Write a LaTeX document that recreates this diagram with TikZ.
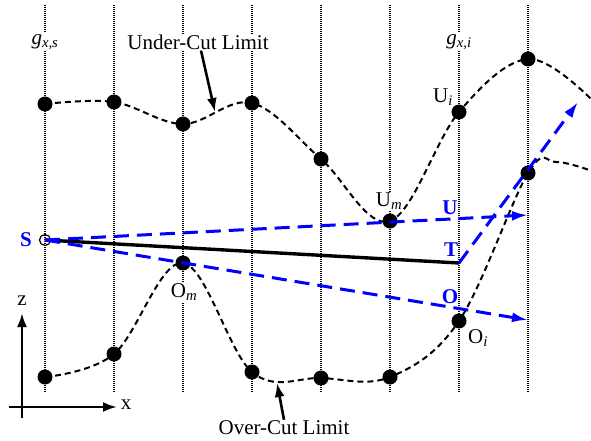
\documentclass[tikz,border=0pt]{standalone}
\usepackage{fontspec}
\setmainfont{Liberation Serif}
\usetikzlibrary{arrows.meta}
\definecolor{vblue}{RGB}{0,0,255}
\tikzset{
  gridln/.style={dash pattern=on 1.2pt off 0.8pt,line width=1.6pt,black},
  cutpt/.style={circle,fill=black,inner sep=0pt,minimum size=15pt},
  cutln/.style={dash pattern=on 6pt off 4pt,line width=2pt},
  toolln/.style={line width=3.4pt},
  vecln/.style={draw=vblue,dash pattern=on 15pt off 8pt,line width=3pt,-{Latex[length=16pt,width=10pt]}},
  lbl/.style={font=\fontsize{21}{23}\selectfont,inner sep=1pt},
  vlbl/.style={font=\fontsize{21}{23}\selectfont\bfseries,text=vblue,inner sep=1pt},
  pointer/.style={line width=2.6pt,-{Latex[length=14pt,width=10pt]}},
}

\begin{document}
\begin{tikzpicture}[x=1pt,y=-1pt]
  \useasboundingbox (0,0) rectangle (591,441);
  % grid lines g_x
  \foreach \i/\gx in {1/45,2/114,3/183,4/252,5/321,6/390,7/459,8/528} {
    \coordinate (gt\i) at (\gx,5);
    \coordinate (gb\i) at (\gx,392);
    \draw[gridln] (gt\i) -- (gb\i);
  }
  % labels masking the grid
  \node[lbl,fill=white] (gxs) at (45,42) {\textit{g}\textsubscript{\textit{x,s}}};
  \node[lbl,fill=white] (gxi) at (459,42) {\textit{g}\textsubscript{\textit{x,i}}};
  \node[lbl,fill=white] (ucl) at (198,42) {Under-Cut Limit};
  \node[lbl,fill=white] (um) at (389,201) {U\textsubscript{\textit{m}}};
  \node[lbl,fill=white] (om) at (184,292) {O\textsubscript{\textit{m}}};
  \node[lbl] (ui) at (443,97) {U\textsubscript{\textit{i}}};
  \node[lbl] (oi) at (478,338) {O\textsubscript{\textit{i}}};
  \node[lbl] (ocl) at (284,428) {Over-Cut Limit};
  % under-cut points
  \node[cutpt] (u1) at (45,104) {};
  \node[cutpt] (u2) at (114,102) {};
  \node[cutpt] (u3) at (183,124) {};
  \node[cutpt] (u4) at (252,103) {};
  \node[cutpt] (u5) at (321,159) {};
  \node[cutpt] (u6) at (390,221) {};
  \node[cutpt] (u7) at (459,112) {};
  \node[cutpt] (u8) at (528,59) {};
  \coordinate (u9) at (592,100);
  % over-cut points
  \node[cutpt] (o1) at (45,377) {};
  \node[cutpt] (o2) at (114,354) {};
  \node[cutpt] (o3) at (183,263) {};
  \node[cutpt] (o4) at (252,372) {};
  \node[cutpt] (o5) at (321,378) {};
  \node[cutpt] (o6) at (390,377) {};
  \node[cutpt] (o7) at (459,321) {};
  \node[cutpt] (o8) at (528,173) {};
  \coordinate (o9) at (556,162);
  \coordinate (o10) at (592,171);
  \draw[cutln] plot[smooth,tension=0.6] coordinates {(u1.center) (u2.center) (u3.center) (u4.center) (u5.center) (u6.center) (u7.center) (u8.center) (u9)};
  \draw[cutln] plot[smooth,tension=0.6] coordinates {(o1.center) (o2.center) (o3.center) (o4.center) (o5.center) (o6.center) (o7.center) (o8.center) (o9) (o10)};
  % pointers to the limits
  \coordinate (ucp) at (215,112);
  \coordinate (ocp) at (277,383);
  \draw[pointer] ([xshift=3pt]ucl.south) -- (ucp);
  \draw[pointer] (ocl.north) -- (ocp);
  % tool vectors
  \node[circle,draw,line width=1.2pt,minimum size=11pt,inner sep=0pt] (S) at (45,240) {};
  \coordinate (T) at (459,263);
  \coordinate (uh) at (528,215);
  \coordinate (oh) at (528,320);
  \coordinate (th) at (578,102);
  \draw[toolln] (S.center) -- (T);
  \draw[vecln] (S.center) -- (uh);
  \draw[vecln] (S.center) -- (oh);
  \draw[vecln] (T) -- (th);
  \node[vlbl] (sl) at (26,240) {S};
  \node[vlbl] (ul) at (450,208) {U};
  \node[vlbl] (tl) at (451,250) {T};
  \node[vlbl] (ol) at (450,297) {O};
  % axes
  \coordinate (zb) at (22,418);
  \coordinate (zt) at (22,313);
  \coordinate (xb) at (9,407);
  \coordinate (xt) at (117,407);
  \draw[pointer] (zb) -- (zt);
  \draw[pointer] (xb) -- (xt);
  \node[lbl] (zl) at (22,301) {z};
  \node[lbl] (xl) at (126,405) {x};
\end{tikzpicture}
\end{document}
